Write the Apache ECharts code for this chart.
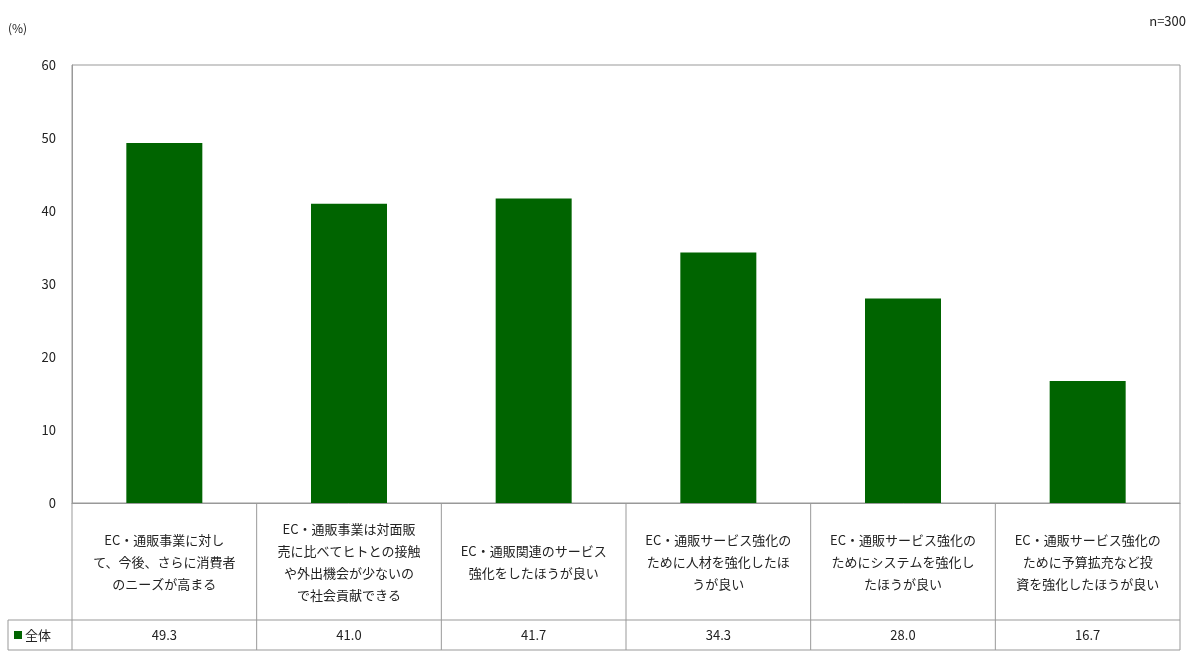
<!DOCTYPE html>
<html><head><meta charset="utf-8">
<script src="https://cdn.jsdelivr.net/npm/echarts@6/dist/echarts.min.js"></script>
<style>html,body{margin:0;padding:0;background:#fff}#c{width:1200px;height:666px}</style>
</head><body><div id="c"></div>
<script>
const categories = [
 "EC・通販事業に対し\nて、今後、さらに消費者\nのニーズが高まる",
 "EC・通販事業は対面販\n売に比べてヒトとの接触\nや外出機会が少ないの\nで社会貢献できる",
 "EC・通販関連のサービス\n強化をしたほうが良い",
 "EC・通販サービス強化の\nために人材を強化したほ\nうが良い",
 "EC・通販サービス強化の\nためにシステムを強化し\nたほうが良い",
 "EC・通販サービス強化の\nために予算拡充など投\n資を強化したほうが良い"
];
const values = [49.3, 41.0, 41.7, 34.3, 28.0, 16.7];
const seriesName = "全体";
const font = "'Noto Sans CJK JP', sans-serif";
const chart = echarts.init(document.getElementById('c'));
const L=72,R=1180,T=65,B=503,ROW1=620,ROW2=650,LEFT=8;
const lc='#999';
const lines=[];
function ln(x1,y1,x2,y2){lines.push({type:'line',shape:{x1,y1,x2,y2},style:{stroke:lc,lineWidth:1}});}
ln(L,ROW1,R,ROW1);ln(LEFT,ROW1,L,ROW1);ln(LEFT,ROW2,R,ROW2);ln(LEFT,ROW1,LEFT,ROW2);
const w=(R-L)/categories.length;
for(let i=0;i<=categories.length;i++){ln(L+i*w,B,L+i*w,ROW2);}
chart.setOption({
 animation:false,
 textStyle:{fontFamily:font},
 grid:{left:L,right:1200-R,top:T,bottom:666-B,show:true,borderColor:lc,borderWidth:1},
 xAxis:[{type:'category',data:categories,axisTick:{show:false},axisLine:{lineStyle:{color:lc}},
   axisLabel:{interval:0,margin:59,verticalAlign:'middle',color:'#222',fontSize:13,lineHeight:22,fontFamily:font}},
  {type:'category',data:values.map(v=>v.toFixed(1)),position:'bottom',offset:132,axisTick:{show:false},axisLine:{show:false},
   axisLabel:{interval:0,margin:0,verticalAlign:'middle',color:'#222',fontSize:13,fontFamily:font}}],
 yAxis:{type:'value',min:0,max:60,interval:10,splitLine:{show:false},axisLine:{show:true,lineStyle:{color:lc}},axisTick:{show:false},
   axisLabel:{color:'#222',fontSize:13,margin:16}},
 series:[{name:seriesName,type:'bar',data:values,barWidth:76,itemStyle:{color:'#006400'}}],
 graphic:lines.concat([
  {type:'text',left:8,top:22,style:{text:'(%)',fill:'#222',font:'12px '+font}},
  {type:'text',right:14,top:15,style:{text:'n=300',fill:'#222',font:'13px '+font}},
  {type:'rect',shape:{x:14,y:631,width:8,height:8},style:{fill:'#006400'}},
  {type:'text',x:25,y:635,style:{text:seriesName,fill:'#222',font:'13px '+font,textVerticalAlign:'middle'}}
 ])
});
</script></body></html>
